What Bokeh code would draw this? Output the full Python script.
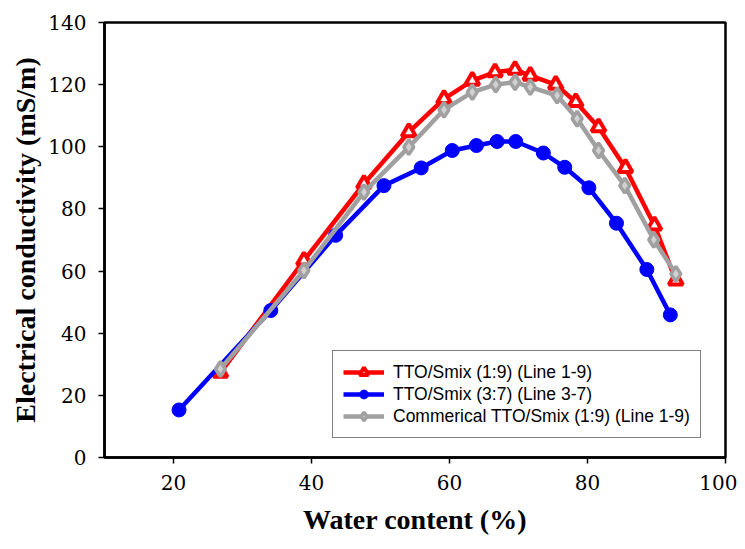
import math
from bokeh.plotting import figure
from bokeh.models import FixedTicker, Legend, LegendItem, Title, Range1d
from bokeh.embed import file_html
from bokeh.resources import INLINE

# ---- data ----
red_x = [26.8, 38.9, 47.6, 54.1, 59.2, 63.3, 66.6, 69.5, 71.7, 75.4, 78.3, 81.6, 85.5, 89.7, 92.8]
red_y = [27.3, 63.4, 88.1, 104.7, 115.4, 121.3, 124.0, 124.8, 122.9, 120.0, 114.4, 106.3, 93.2, 74.7, 57.0]

blue_x = [20.8, 34.1, 43.5, 50.5, 55.9, 60.4, 63.9, 66.9, 69.6, 73.6, 76.7, 80.2, 84.2, 88.6, 92.0]
blue_y = [15.3, 47.3, 71.5, 87.5, 93.2, 98.8, 100.4, 101.7, 101.7, 98.0, 93.4, 86.8, 75.4, 60.5, 45.9]

gray_x = [26.8, 38.9, 47.6, 54.1, 59.2, 63.3, 66.7, 69.5, 71.7, 75.6, 78.5, 81.6, 85.4, 89.6, 92.8]
gray_y = [28.5, 60.2, 85.4, 99.9, 111.9, 117.6, 120.0, 120.8, 119.2, 116.5, 109.0, 98.8, 87.5, 70.1, 59.1]

x_ticks = [20, 40, 60, 80, 100]
y_ticks = [0, 20, 40, 60, 80, 100, 120, 140]

labels = ["TTO/Smix (1:9) (Line 1-9)",
          "TTO/Smix (3:7) (Line 3-7)",
          "Commerical TTO/Smix (1:9) (Line 1-9)"]

p = figure(width=737, height=541, output_backend="svg", toolbar_location=None,
           x_range=Range1d(10, 100), y_range=Range1d(0, 140),
           min_border_left=104, min_border_right=12, min_border_top=22, min_border_bottom=84)

p.xgrid.visible = False
p.ygrid.visible = False
p.outline_line_color = "black"
p.outline_line_width = 2.5

xa = p.xaxis[0]
ya = p.yaxis[0]
for ax in (xa, ya):
    ax.axis_line_color = "black"
    ax.axis_line_width = 2.5
    ax.major_tick_line_color = "black"
    ax.major_tick_line_width = 1.5
    ax.major_tick_out = 6
    ax.major_tick_in = 0
    ax.minor_tick_line_color = None
    ax.major_label_text_color = "black"
    ax.major_label_text_font_style = "normal"
    ax.major_label_text_font = "DejaVu Serif"
    ax.major_label_text_font_size = "20px"

xa.major_label_standoff = 11
ya.major_label_standoff = 12

xa.ticker = FixedTicker(ticks=x_ticks)
ya.ticker = FixedTicker(ticks=y_ticks)

xa.axis_label = "Water content (%)"
xa.axis_label_text_font = "Liberation Serif"
xa.axis_label_text_font_size = "28px"
xa.axis_label_text_font_style = "bold"
xa.axis_label_text_color = "black"
xa.axis_label_standoff = 11

ytitle = Title(text="Electrical conductivity (mS/m)", align="center", offset=22,
               text_font="Liberation Serif", text_font_size="28px",
               text_font_style="bold", text_color="black", standoff=10)
p.add_layout(ytitle, "left")

lw = 4.5
r_line = p.line(red_x, red_y, line_color="#FF0000", line_width=lw)
r_mark = p.scatter(red_x, red_y, marker="triangle", size=14, line_color="#FF0000",
                   line_width=4, fill_color="white")
b_line = p.line(blue_x, blue_y, line_color="#0000FF", line_width=lw)
b_mark = p.scatter(blue_x, blue_y, marker="circle", size=14, line_color="#0000FF",
                   fill_color="#0000FF")
g_line = p.line(gray_x, gray_y, line_color="#A0A0A0", line_width=lw)
g_mark = p.scatter(gray_x, gray_y, marker="diamond", size=15, line_color="#A0A0A0",
                   line_width=3.5, fill_color="#D0D0D0")

legend = Legend(items=[
    LegendItem(label=labels[0], renderers=[r_line, r_mark]),
    LegendItem(label=labels[1], renderers=[b_line, b_mark]),
    LegendItem(label=labels[2], renderers=[g_line, g_mark]),
], location=(228, 19))
legend.label_text_font = "Liberation Sans"
legend.label_text_font_size = "17.5px"
legend.label_text_color = "black"
legend.label_height = 22
legend.glyph_height = 22
legend.glyph_width = 41
legend.label_standoff = 9
legend.spacing = 0
legend.padding = 10
legend.margin = 0
legend.border_line_color = "black"
legend.border_line_width = 1.5
legend.background_fill_alpha = 1.0
p.add_layout(legend)

open("out.html", "w").write(file_html(p, INLINE))
